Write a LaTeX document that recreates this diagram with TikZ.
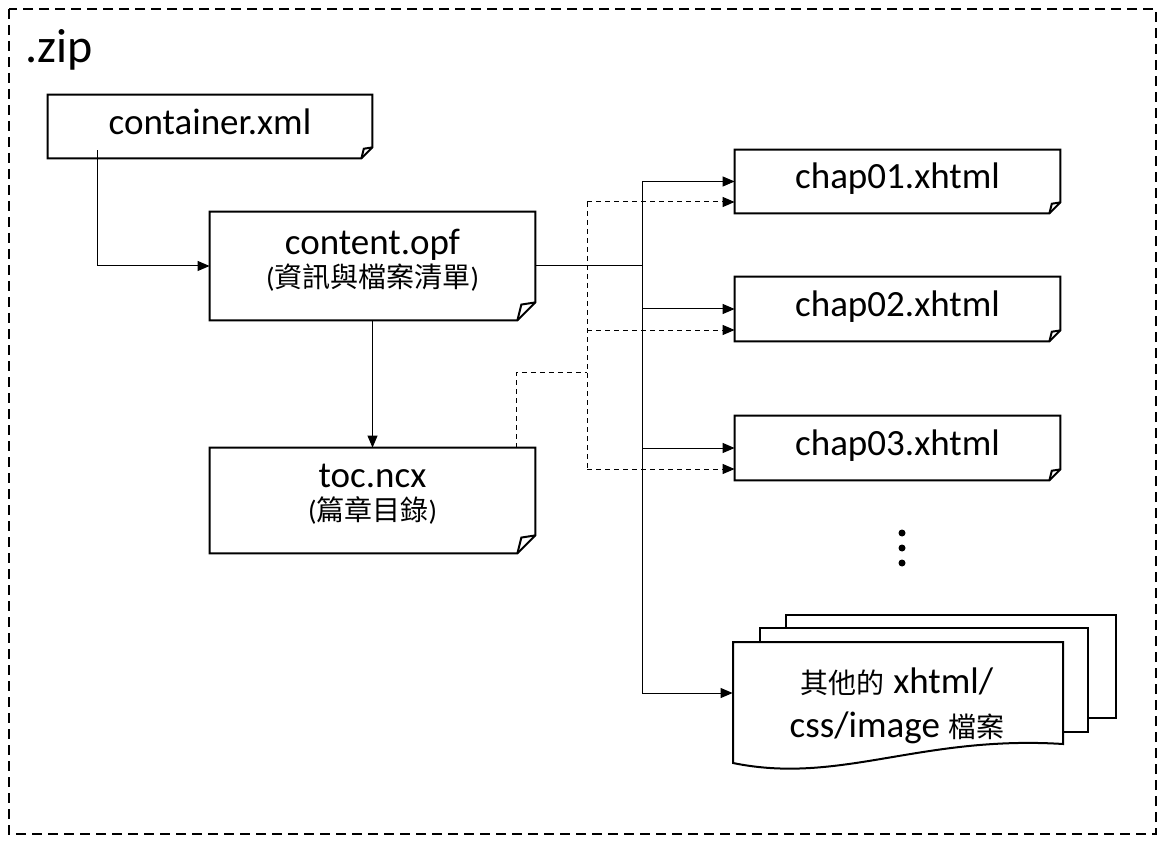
\documentclass[tikz,border=0pt]{standalone}
\usepackage{fontspec}
\setmainfont{Carlito}
\newfontfamily\cjk{Noto Sans CJK TC}
\usetikzlibrary{arrows.meta,calc}
\newcommand\foldbox[2]{%
  \draw[outline] (#1.north west) -- (#1.north east) -- ($(#1.south east)+(0,-#2)$) -- ($(#1.south east)+(-#2,0)$) -- (#1.south west) -- cycle;
  \draw[line width=1pt,line join=miter] ($(#1.south east)+(0,-#2)$) -- ($(#1.south east)+(-0.78*#2,-0.88*#2)$) -- ($(#1.south east)+(-#2,0)$);}
\begin{document}
\begin{tikzpicture}[x=0.5pt,y=-0.5pt,
  boxn/.style={draw=none,inner sep=0pt,minimum width=162.5pt},
  outline/.style={line width=1pt,fill=white,line join=miter},
  conn/.style={line width=0.5pt,-{Triangle[length=6pt,width=5pt]}},
  dconn/.style={conn,dash pattern=on 2.5pt off 2pt},
  plainline/.style={line width=0.5pt},
  dline/.style={line width=0.5pt,dash pattern=on 2.5pt off 2pt},
  lab/.style={anchor=base,inner sep=0pt,font=\fontsize{18.5}{20}\selectfont},
  sub/.style={anchor=base,inner sep=0pt,font=\fontsize{14}{16}\selectfont}]
\useasboundingbox (0,0) rectangle (1165,844);
\fill[white] (0,0) rectangle (1165,844);
\draw[line width=1pt,dash pattern=on 5pt off 3pt] (9,9) rectangle (1156,834);
\node[anchor=base west,inner sep=0pt,font=\fontsize{24}{26}\selectfont] (zip) at (25,63) {.zip};

% boxes
\node[boxn,minimum width=162pt,minimum height=31.5pt] (cnt) at (210,126.5) {};
\node[boxn,minimum height=54pt] (cont) at (372.5,266) {};
\node[boxn,minimum height=52.5pt] (toc) at (372.5,500.5) {};
\node[boxn,minimum height=31.5pt] (chap1) at (897.5,181.5) {};
\node[boxn,minimum height=32pt] (chap2) at (897.5,309) {};
\node[boxn,minimum height=32pt] (chap3) at (897.5,448) {};
\foldbox{cnt}{11}
\foldbox{cont}{18}
\foldbox{toc}{18}
\foldbox{chap1}{11}
\foldbox{chap2}{11}
\foldbox{chap3}{11}

% multi document
\draw[outline] (786,615) rectangle (1116,718);
\draw[outline] (760,628) rectangle (1088,732);
\draw[outline] (733,642) -- (1063,642) -- (1063,744) .. controls (920,735) and (840,785) .. (733,763) -- cycle;
\node[boxn,minimum width=165pt,minimum height=51pt] (other) at (898,693) {};

% labels
\node[lab] (cntl) at ($(cnt.center)+(0,8.5)$) {container.xml};
\node[lab] (contl) at (372.5,255) {content.opf};
\node[sub] (conts) at (372.5,288) {({\cjk 資訊與檔案清單})};
\node[lab] (tocl) at (372.5,487) {toc.ncx};
\node[sub] (tocs) at (372.5,520) {({\cjk 篇章目錄})};
\node[lab] (c1l) at ($(chap1.center)+(0,7.5)$) {chap01.xhtml};
\node[lab] (c2l) at ($(chap2.center)+(0,7.5)$) {chap02.xhtml};
\node[lab] (c3l) at ($(chap3.center)+(0,7.5)$) {chap03.xhtml};
\node[lab] (o1) at (897,693) {{\cjk\fontsize{14}{16}\selectfont 其他的} xhtml/};
\node[lab] (o2) at (897,737) {css/image {\cjk\fontsize{14}{16}\selectfont 檔案}};

% dots
\fill (902,533) circle[radius=3.5];
\fill (902,548) circle[radius=3.5];
\fill (902,563) circle[radius=3.5];

% solid connectors
\coordinate (tr) at (642,266);
\coordinate (ttop) at (642,181.5);
\coordinate (tbot) at (642,693);
\draw[conn] ($(cnt.south west)+(50,-8)$) |- (cont.west);
\draw[conn] (cont.south) -- (toc.north);
\draw[plainline] (cont.east) -- (tr);
\draw[plainline] (ttop) -- (tbot);
\draw[conn] (ttop) -- (chap1.west);
\draw[conn] (chap2.west -| tr) -- (chap2.west);
\draw[conn] (chap3.west -| tr) -- (chap3.west);
\draw[conn] (tbot) -- (other.west);

% dashed connectors
\coordinate (dj) at (587,372);
\coordinate (d1) at ($(chap1.west)+(0,20.5)$);
\coordinate (d2) at ($(chap2.west)+(0,21)$);
\coordinate (d3) at ($(chap3.west)+(0,21)$);
\draw[dline] ($(toc.north east)+(-19,0)$) |- (dj);
\draw[dline] (d1 -| dj) -- (d3 -| dj);
\draw[dconn] (d1 -| dj) -- (d1);
\draw[dconn] (d2 -| dj) -- (d2);
\draw[dconn] (d3 -| dj) -- (d3);
\end{tikzpicture}
\end{document}
